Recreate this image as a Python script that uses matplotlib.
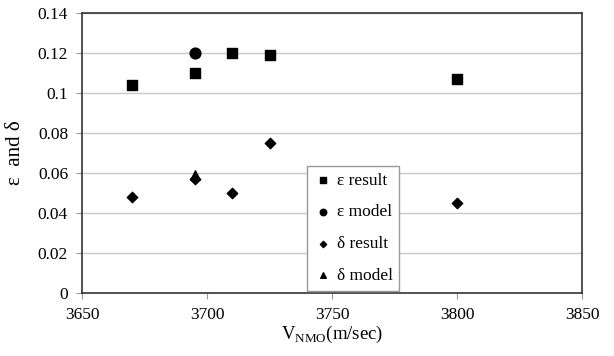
import matplotlib
matplotlib.use("Agg")
import matplotlib.pyplot as plt

eps_result_x = [3670, 3695, 3710, 3725, 3800]
eps_result_y = [0.104, 0.110, 0.120, 0.119, 0.107]
eps_model_x = [3695]
eps_model_y = [0.120]
delta_result_x = [3670, 3695, 3710, 3725, 3800]
delta_result_y = [0.048, 0.057, 0.050, 0.075, 0.045]
delta_model_x = [3695]
delta_model_y = [0.059]

xticks = [3650, 3700, 3750, 3800, 3850]
yticks = [0, 0.02, 0.04, 0.06, 0.08, 0.1, 0.12, 0.14]
ytick_labels = ["0", "0.02", "0.04", "0.06", "0.08", "0.1", "0.12", "0.14"]

plt.rcParams['font.family'] = ['Liberation Serif', 'DejaVu Serif']
fig = plt.figure(figsize=(6.14, 3.56), dpi=100)
ax = fig.add_axes([82/614, 1 - 293/356, 500/614, 280/356])

ax.scatter(eps_result_x, eps_result_y, marker='s', s=55, color='black', label='ε result', zorder=3)
ax.scatter(eps_model_x, eps_model_y, marker='o', s=60, color='black', label='ε model', zorder=3)
ax.scatter(delta_result_x, delta_result_y, marker='D', s=28, color='black', label='δ result', zorder=3)
ax.scatter(delta_model_x, delta_model_y, marker='^', s=45, color='black', label='δ model', zorder=3)

ax.set_xlim(3650, 3850)
ax.set_ylim(0, 0.14)
ax.set_xticks(xticks)
ax.set_xticklabels([str(t) for t in xticks], fontsize=12.5)
ax.set_yticks(yticks)
ax.set_yticklabels(ytick_labels, fontsize=12.5)
ax.yaxis.grid(True, color='#c8c8c8', linewidth=1)
ax.set_axisbelow(True)
for s in ax.spines.values():
    s.set_color('#333333')
    s.set_linewidth(1.2)
ax.tick_params(axis='both', length=4, color='#999999', pad=6)

ax.set_xlabel(r'V$_{\mathregular{NMO}}$(m/sec)', fontsize=13.5, labelpad=1)
ax.set_ylabel('ε  and δ', fontsize=15, labelpad=9)

leg = ax.legend(loc='lower left', bbox_to_anchor=((307-82)/500, 2/280), fontsize=12.5,
                frameon=True, fancybox=False, edgecolor='#999999', framealpha=1,
                handletextpad=0.3, labelspacing=0.9, borderpad=0.4, handlelength=1.0,
                markerscale=0.6, borderaxespad=0)
leg.get_frame().set_linewidth(1)

fig.savefig('out.png', dpi=100)
